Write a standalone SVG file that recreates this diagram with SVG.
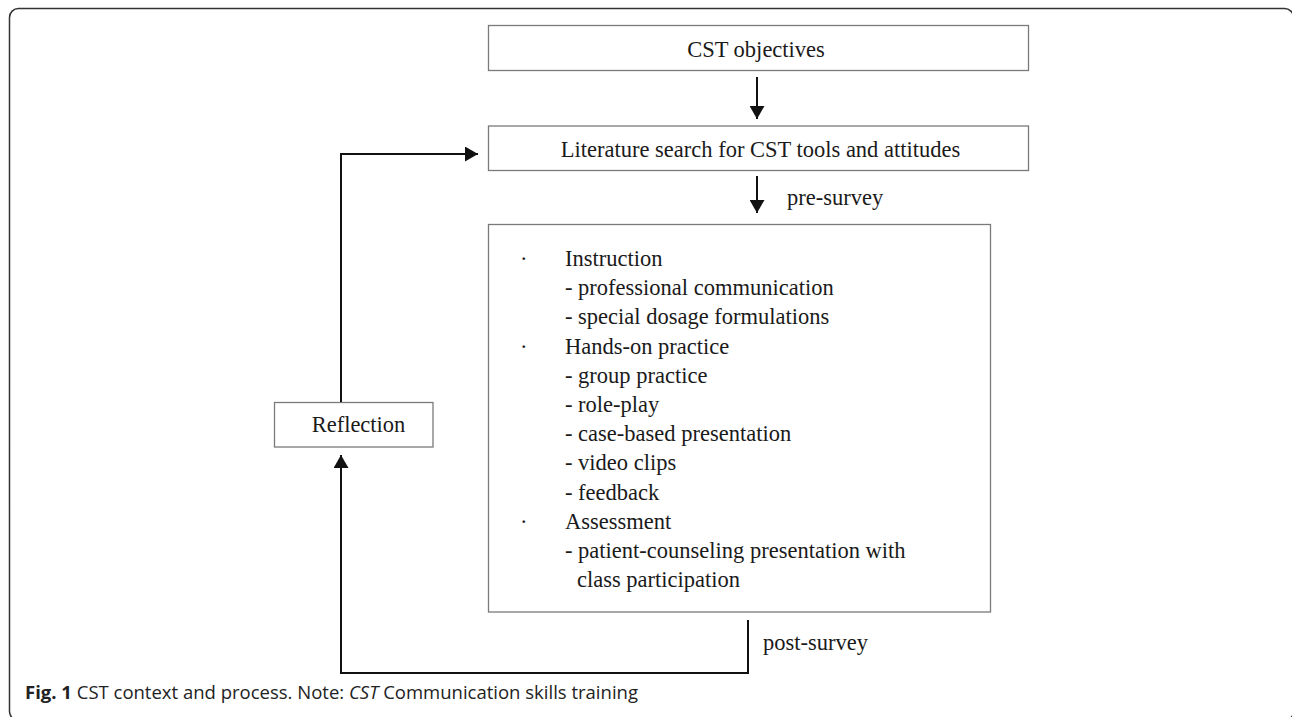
<svg xmlns="http://www.w3.org/2000/svg" width="1292" height="717" viewBox="0 0 1292 717">
<style>
.box{fill:#fff;stroke:#7a7a7a;stroke-width:1.3}
.t{font-family:"Liberation Serif","Times New Roman",serif;font-size:22.5px;fill:#1a1a1a}
.c{fill:none;stroke:#111;stroke-width:2}
.cap{font-family:"Open Sans","Noto Sans",sans-serif;font-size:18.5px;fill:#222}
</style>
<defs>
<marker id="ah" markerUnits="userSpaceOnUse" markerWidth="13" markerHeight="15" refX="13" refY="7.5" orient="auto">
<path d="M0,0 L13,7.5 L0,15 z" fill="#111"/>
</marker>
</defs>
<rect x="9.5" y="8.5" width="1284" height="712" rx="9" fill="none" stroke="#333" stroke-width="1.5"/>
<g id="n-objectives">
<rect class="box" x="488.5" y="25.5" width="540" height="45"/>
<text class="t" x="756" y="57" text-anchor="middle">CST objectives</text>
</g>
<g id="n-literature">
<rect class="box" x="488.5" y="126" width="540" height="44.5"/>
<text class="t" x="760.5" y="157" text-anchor="middle">Literature search for CST tools and attitudes</text>
</g>
<g id="n-main">
<rect class="box" x="488.5" y="224.5" width="502" height="387.5"/>
<text class="t" x="520" y="266">·</text>
<text class="t" x="565" y="266">Instruction</text>
<text class="t" x="565" y="295.2">- professional communication</text>
<text class="t" x="565" y="324.4">- special dosage formulations</text>
<text class="t" x="520" y="353.6">·</text>
<text class="t" x="565" y="353.6">Hands-on practice</text>
<text class="t" x="565" y="382.8">- group practice</text>
<text class="t" x="565" y="412">- role-play</text>
<text class="t" x="565" y="441.2">- case-based presentation</text>
<text class="t" x="565" y="470.4">- video clips</text>
<text class="t" x="565" y="499.6">- feedback</text>
<text class="t" x="520" y="528.8">·</text>
<text class="t" x="565" y="528.8">Assessment</text>
<text class="t" x="565" y="558">- patient-counseling presentation with</text>
<text class="t" x="577" y="587.2">class participation</text>
</g>
<g id="n-reflection">
<rect class="box" x="274.5" y="402.5" width="158.5" height="44.5"/>
<text class="t" x="358.5" y="432" text-anchor="middle">Reflection</text>
</g>
<g id="connectors">
<line class="c" x1="757" y1="77" x2="757" y2="119" stroke-width="1.6" marker-end="url(#ah)"/>
<line class="c" x1="757" y1="176" x2="757" y2="213" stroke-width="1.6" marker-end="url(#ah)"/>
<path class="c" d="M341,402 V154 H478" marker-end="url(#ah)"/>
<path class="c" d="M748,620 V673 H341 V455" stroke-width="2.4" marker-end="url(#ah)"/>
</g>
<text class="t" x="787" y="205">pre-survey</text>
<text class="t" x="763" y="650">post-survey</text>
<text class="cap" x="25" y="699"><tspan font-weight="bold">Fig. 1</tspan> CST context and process. Note: <tspan font-style="italic">CST</tspan> Communication skills training</text>
</svg>
